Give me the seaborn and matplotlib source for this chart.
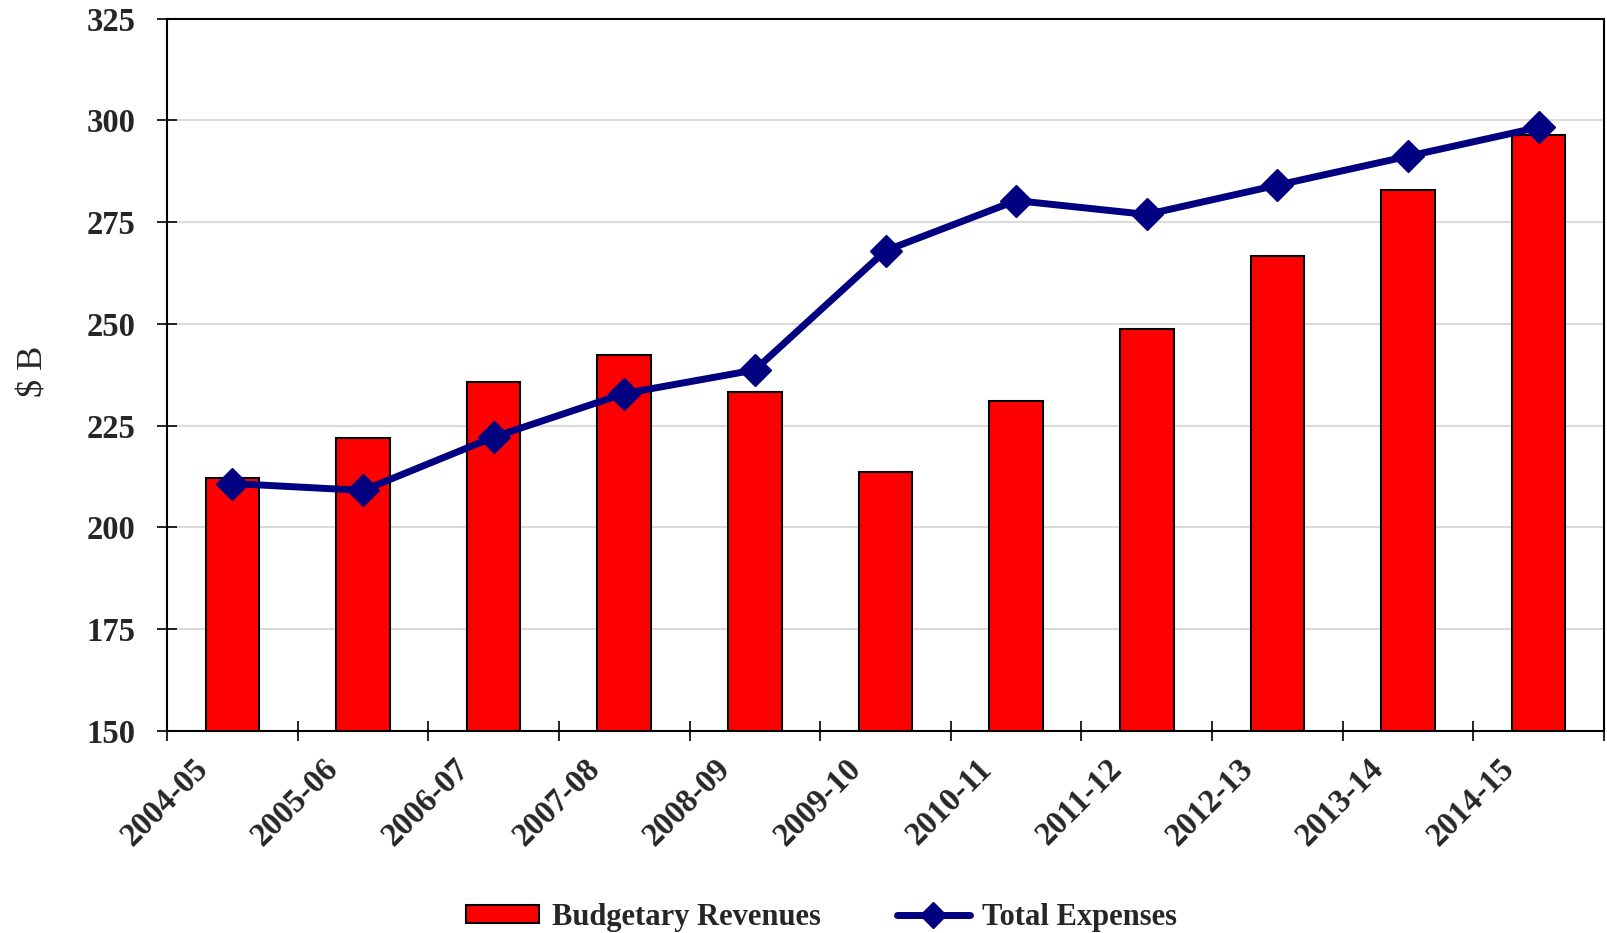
import matplotlib
matplotlib.use("Agg")
import matplotlib.pyplot as plt
import matplotlib.transforms as mtransforms
from matplotlib.lines import Line2D
from matplotlib.patches import Patch
from matplotlib.ticker import FixedLocator
import seaborn as sns
import pandas as pd

years = ["2004-05", "2005-06", "2006-07", "2007-08", "2008-09", "2009-10",
         "2010-11", "2011-12", "2012-13", "2013-14", "2014-15"]
revenues = [212.1, 222.0, 235.7, 242.4, 233.3, 213.6, 231.0, 248.8, 266.7, 282.8, 296.5]
expenses = [210.8, 209.1, 222.2, 232.9, 238.7, 268.0, 280.3, 276.9, 284.1, 291.2, 298.3]
y_ticks = [150, 175, 200, 225, 250, 275, 300, 325]

df = pd.DataFrame({"year": years, "revenues": revenues, "expenses": expenses})

sns.set_theme(style="white")
plt.rcParams["font.family"] = ["Liberation Serif", "DejaVu Serif"]
plt.rcParams["font.weight"] = "bold"

fig = plt.figure(figsize=(16.08, 9.33), dpi=100)
ax = fig.add_axes([0.1039, 0.2165, 0.9975 - 0.1039, 0.980 - 0.2165])

sns.barplot(data=df, x="year", y="revenues", color="#FF0000", saturation=1,
            width=0.41, edgecolor="black", linewidth=1.5, ax=ax, zorder=2)
ax.plot(range(len(years)), df["expenses"], color="#000080", linewidth=5,
        marker="D", markersize=16, zorder=3, solid_joinstyle="round")

ax.set_ylim(150, 325)
ax.set_xlim(-0.5, len(years) - 0.5)
ax.set_yticks(y_ticks)
ax.set_yticklabels([str(v) for v in y_ticks], fontsize=23.5, fontweight="bold")
ax.yaxis.grid(True, color="#d4d4d4", linewidth=1.2, zorder=0)
ax.set_axisbelow(True)

# category labels at bar centres, tick marks on the category boundaries
ax.set_xticks(range(len(years)))
ax.set_xticklabels(years, fontsize=23.5, fontweight="bold", rotation=45,
                   ha="right", va="top", rotation_mode="anchor")
ax.xaxis.set_minor_locator(FixedLocator([i - 0.5 for i in range(len(years) + 1)]))
ax.tick_params(axis="x", which="major", bottom=True, length=0, pad=16)
ax.tick_params(axis="x", which="minor", bottom=True, direction="inout",
               length=14, width=1.2, color="black")
ax.tick_params(axis="y", left=True, direction="inout", length=14, width=1.2,
               color="black", pad=16)

shift = mtransforms.ScaledTranslation(-0.40, 0, fig.dpi_scale_trans)
for lbl in ax.get_xticklabels():
    lbl.set_transform(lbl.get_transform() + shift)

for s in ax.spines.values():
    s.set_visible(True)
    s.set_color("black")
    s.set_linewidth(1.5)

ax.set_xlabel("")
ax.set_ylabel("$ B", fontsize=26, fontweight="normal")
ax.yaxis.set_label_coords(-0.081, 0.505)

handles = [
    Patch(facecolor="#FF0000", edgecolor="black", linewidth=1.5),
    Line2D([0], [0], color="#000080", linewidth=5, marker="D", markersize=13),
]
fig.legend(handles, ["Budgetary Revenues", "Total Expenses"], loc="center",
           bbox_to_anchor=(0.511, 0.017), ncol=2, frameon=False,
           prop={"family": "Liberation Serif", "weight": "bold", "size": 22},
           handlelength=2.4, handleheight=0.55, columnspacing=2.5, handletextpad=0.4)

fig.savefig("out.png", dpi=100)
